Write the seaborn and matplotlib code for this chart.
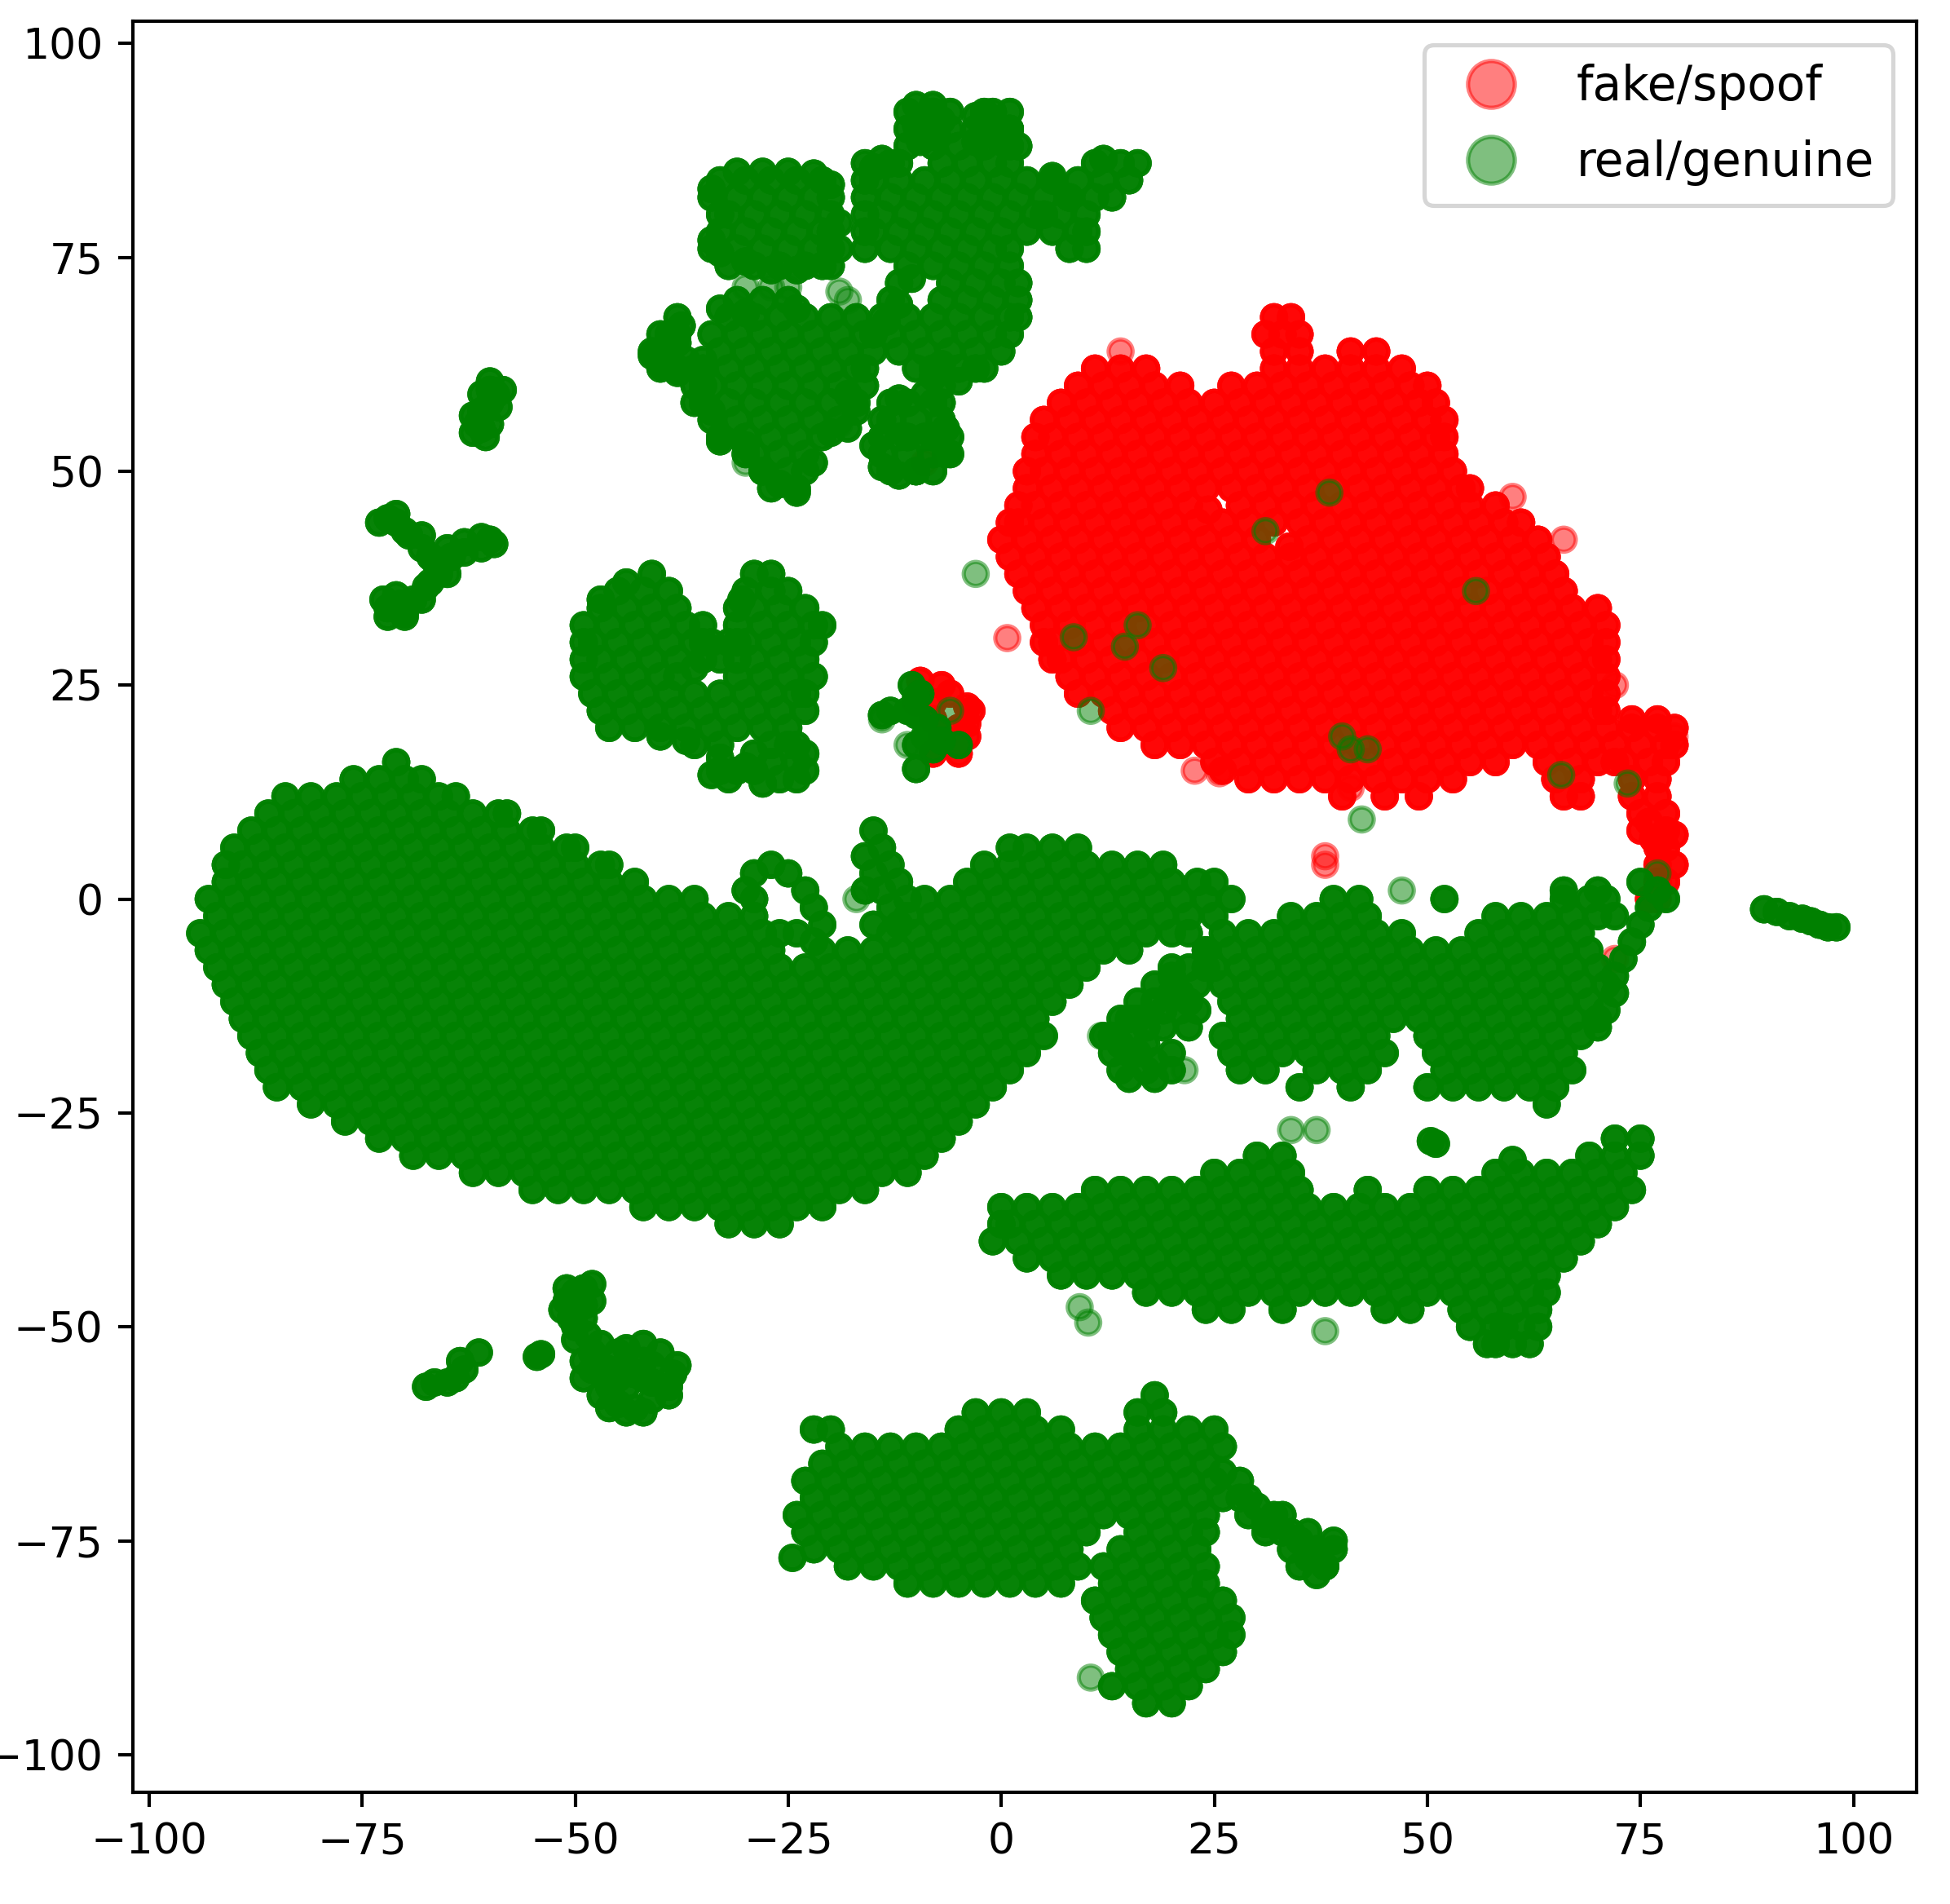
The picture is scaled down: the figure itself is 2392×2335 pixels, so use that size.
import pandas as pd
import matplotlib
matplotlib.use('Agg')
import matplotlib.pyplot as plt
import seaborn as sns

# points, cluster by cluster: (y, [x, x, ...])
red_rows = [
    (68, [32,34]),
    (66, [31,33,35]),
    (64, [32,35,41,44]),
    (62, [11,14,17,32,35,38,41,44,47]),
    (60, [9,12,15,18,21,27,30,33,36,39,42,45,48,50]),
    (58, [7,10,13,16,19,22,25,28,31,34,37,40,43,46,49,51]),
    (56, [5,8,11,14,17,20,23,26,29,32,35,38,41,44,47,50,52]),
    (54, [4,6,9,12,15,18,21,24,27,30,33,36,39,42,45,48,51,52]),
    (52, [4,7,10,13,16,19,22,25,28,31,34,37,40,43,46,49,52]),
    (50, [3,5,8,11,14,17,20,23,26,29,32,35,38,41,44,47,50,53]),
    (48, [3,6,9,12,15,18,21,24,27,30,33,36,39,42,45,48,51,54,55]),
    (46, [2,4,7,10,13,16,19,22,28,31,34,37,40,43,46,49,52,55,58]),
    (44, [1,2,5,8,11,14,17,20,23,26,29,32,35,38,41,44,47,50,53,56,59,61]),
    (42, [0,3,6,9,12,15,18,21,24,27,30,36,39,42,45,48,51,54,57,60,63]),
    (40, [1,4,7,10,13,16,19,22,25,28,31,34,37,40,43,46,49,52,55,58,61,64]),
    (38, [2,5,8,11,14,17,20,23,26,29,32,35,38,41,44,47,50,53,56,59,62,65]),
    (36, [3,6,9,12,15,18,21,24,27,30,33,36,39,42,45,48,51,54,57,60,63,66]),
    (34, [4,7,10,13,16,19,22,25,28,31,34,37,40,43,46,49,52,55,58,61,64,67,70]),
    (32, [5,8,11,14,17,20,23,26,29,32,35,38,41,44,47,50,53,56,59,62,65,68,71]),
    (30, [5,6,9,12,15,18,21,24,27,30,33,36,39,42,45,48,51,54,57,60,63,66,69,71]),
    (28, [6,7,10,13,16,19,22,25,28,31,34,37,40,43,46,49,52,55,58,61,64,67,70,71]),
    (26, [8,11,14,17,20,23,26,29,32,35,38,41,44,47,50,53,56,59,62,65,68,71]),
    (24, [9,12,15,18,21,24,27,30,33,36,39,42,45,48,51,54,57,60,63,66,69,71]),
    (22, [13,16,19,22,25,28,31,34,37,40,43,46,49,52,55,58,61,64,67,70,71]),
    (20, [14,17,20,23,26,29,32,35,38,41,44,47,50,53,56,59,62,65,68,71,74,77,79]),
    (18, [18,21,24,27,30,33,36,39,42,45,48,51,54,57,60,63,66,69,72,75,78,79]),
    (16, [25,28,31,34,37,40,43,46,49,52,55,58,64,67,70,73,76,78]),
    (14, [32,35,38,41,44,47,50,53,65,68,74,77]),
    (12, [40,45,49,66,68,74,77]),
    (10, [75,78]),
    (8, [75,78]),
    (6, [77,78]),
    (4, [77,79]),
    (2, [77,78]),
    (0, [76,77]),
]
red_small_x = [-9.5,-7,-10,-8,-6,-4,-3.5,-8,-5,-4,-7,-5,-8,-4,24.3,33.8,76,76.5,79,29,26,72,74,77]
red_small_y = [25.5,25,23,23,24,22.5,22,21,20,19,19,17,17,20.5,45.5,41.2,9,7,7.5,14,15,16,21,21]
red_single_x = [0.7,-9,38,38,14,60,66,72,79,41,25.6,22.7,72]
red_single_y = [30.5,51,5,4,64,47,42,25,19,13,14.7,15,-7]

blob_rows = [
    (16, [-71]),
    (14, [-76,-73,-70,-68]),
    (12, [-84,-81,-78,-75,-72,-69,-66,-64]),
    (10, [-86,-83,-80,-77,-74,-71,-68,-65,-62,-59,-58]),
    (8, [-88,-85,-82,-79,-76,-73,-70,-67,-64,-61,-58,-55,-54]),
    (6, [-90,-87,-84,-81,-78,-75,-72,-69,-66,-63,-60,-57,-54,-51,-50,1,3,6,9]),
    (4, [-91,-89,-86,-83,-80,-77,-74,-71,-68,-65,-62,-59,-56,-53,-50,-47,-46,-2,1,4,7,10,13,16,19]),
    (2, [-91,-88,-85,-82,-79,-76,-73,-70,-67,-64,-61,-58,-55,-52,-49,-46,-43,-4,-1,2,5,8,11,14,17,20,23,25]),
    (0, [-93,-90,-87,-84,-81,-78,-75,-72,-69,-66,-63,-60,-57,-54,-51,-48,-45,-42,-39,-36,-9,-6,-3,0,3,6,9,12,15,18,21,24,27]),
    (-2, [-92,-89,-86,-83,-80,-77,-74,-71,-68,-65,-62,-59,-56,-53,-50,-47,-44,-41,-38,-35,-32,-11,-8,-5,-2,1,4,7,10,13,16,19,22,25]),
    (-4, [-94,-91,-88,-85,-82,-79,-76,-73,-70,-67,-64,-61,-58,-55,-52,-49,-46,-43,-40,-37,-34,-31,-13,-10,-7,-4,-1,2,5,8,11,14,17,20,22]),
    (-6, [-93,-90,-87,-84,-81,-78,-75,-72,-69,-66,-63,-60,-57,-54,-51,-48,-45,-42,-39,-36,-33,-30,-27,-21,-18,-15,-12,-9,-6,-3,0,3,6,9,12,15]),
    (-8, [-92,-89,-86,-83,-80,-77,-74,-71,-68,-65,-62,-59,-56,-53,-50,-47,-44,-41,-38,-35,-32,-29,-26,-23,-20,-17,-14,-11,-8,-5,-2,1,4,7,10]),
    (-10, [-91,-88,-85,-82,-79,-76,-73,-70,-67,-64,-61,-58,-55,-52,-49,-46,-43,-40,-37,-34,-31,-28,-25,-22,-19,-16,-13,-10,-7,-4,-1,2,5,8]),
    (-12, [-90,-87,-84,-81,-78,-75,-72,-69,-66,-63,-60,-57,-54,-51,-48,-45,-42,-39,-36,-33,-30,-27,-24,-21,-18,-15,-12,-9,-6,-3,0,3,6]),
    (-14, [-89,-86,-83,-80,-77,-74,-71,-68,-65,-62,-59,-56,-53,-50,-47,-44,-41,-38,-35,-32,-29,-26,-23,-20,-17,-14,-11,-8,-5,-2,1,4]),
    (-16, [-88,-85,-82,-79,-76,-73,-70,-67,-64,-61,-58,-55,-52,-49,-46,-43,-40,-37,-34,-31,-28,-25,-22,-19,-16,-13,-10,-7,-4,-1,2,5]),
    (-18, [-87,-84,-81,-78,-75,-72,-69,-66,-63,-60,-57,-54,-51,-48,-45,-42,-39,-36,-33,-30,-27,-24,-21,-18,-15,-12,-9,-6,-3,0,3]),
    (-20, [-86,-83,-80,-77,-74,-71,-68,-65,-62,-59,-56,-53,-50,-47,-44,-41,-38,-35,-32,-29,-26,-23,-20,-17,-14,-11,-8,-5,-2,1]),
    (-22, [-85,-82,-79,-76,-73,-70,-67,-64,-61,-58,-55,-52,-49,-46,-43,-40,-37,-34,-31,-28,-25,-22,-19,-16,-13,-10,-7,-4,-1]),
    (-24, [-81,-78,-75,-72,-69,-66,-63,-60,-57,-54,-51,-48,-45,-42,-39,-36,-33,-30,-27,-24,-21,-18,-15,-12,-9,-6,-3]),
    (-26, [-77,-74,-71,-68,-65,-62,-59,-56,-53,-50,-47,-44,-41,-38,-35,-32,-29,-26,-23,-20,-17,-14,-11,-8,-5]),
    (-28, [-73,-70,-67,-64,-61,-58,-55,-52,-49,-46,-43,-40,-37,-34,-31,-28,-25,-22,-19,-16,-13,-10,-7]),
    (-30, [-69,-66,-63,-60,-57,-54,-51,-48,-45,-42,-39,-36,-33,-30,-27,-24,-21,-18,-15,-12,-9]),
    (-32, [-62,-59,-56,-53,-50,-47,-44,-41,-38,-35,-32,-29,-26,-23,-20,-17,-14,-11]),
    (-34, [-55,-52,-49,-46,-43,-40,-37,-34,-31,-28,-25,-22,-19,-16]),
    (-36, [-42,-39,-36,-33,-30,-27,-24,-21]),
    (-38, [-32,-29,-26]),
]
band_mid_rows = [
    (1, [66,70]),
    (0, [39,42,52,66,69,71]),
    (-2, [34,37,40,43,58,61,64,67,70,72]),
    (-4, [26,29,32,35,38,41,44,47,56,59,62,65,68]),
    (-6, [24,27,30,33,36,39,42,45,48,51,54,57,60,63,66,69]),
    (-8, [25,28,31,34,37,40,43,46,49,52,55,58,61,64,67,70]),
    (-10, [26,29,32,35,38,41,44,47,50,53,56,59,62,65,68,71]),
    (-12, [27,30,33,36,39,42,45,48,51,54,57,60,63,66,69]),
    (-14, [28,31,34,37,40,43,46,49,52,55,58,61,64,67,70]),
    (-16, [26,29,32,35,38,41,44,50,53,56,59,62,65,68]),
    (-18, [27,30,33,36,39,42,45,51,54,57,60,63,66]),
    (-20, [28,31,37,40,43,52,55,58,61,64,67]),
    (-22, [35,41,50,53,56,59,62,65]),
    (-24, [64]),
]
band_low_rows = [
    (-28, [72,75]),
    (-30, [30,33,69,72,75]),
    (-32, [25,28,31,34,58,61,64,67,70,73]),
    (-34, [11,14,17,20,23,26,29,32,35,43,50,53,56,59,62,65,68,71,74]),
    (-36, [0,3,6,9,12,15,18,21,24,27,30,33,36,39,42,45,48,51,54,57,60,63,66,69,72]),
    (-38, [0,1,4,7,10,13,16,19,22,25,28,31,34,37,40,43,46,49,52,55,58,61,64,67,70]),
    (-40, [-1,2,5,8,11,14,17,20,23,26,29,32,35,38,41,44,47,50,53,56,59,62,65,68]),
    (-42, [3,6,9,12,15,18,21,24,27,30,33,36,39,42,45,48,51,54,57,60,63,66]),
    (-44, [7,10,13,16,19,22,25,28,31,34,37,40,43,46,49,52,55,58,61,64]),
    (-46, [17,20,23,26,29,32,35,38,41,44,47,50,53,56,59,62,64]),
    (-48, [24,27,33,45,48,54,57,60,63]),
    (-50, [55,58,61,63]),
    (-52, [57,58,60,62]),
]
bottom_rows = [
    (-58, [18]),
    (-60, [-3,0,3,16,19]),
    (-62, [-22,-20,-5,-2,1,4,7,16,19,22,25]),
    (-64, [-19,-16,-13,-10,-7,-4,-1,2,5,8,11,14,17,20,23,26]),
    (-66, [-21,-18,-15,-12,-9,-6,-3,0,3,6,9,12,15,18,21,24]),
    (-68, [-23,-20,-17,-14,-11,-8,-5,-2,1,4,7,10,13,16,19,22,25,28]),
    (-70, [-22,-19,-16,-13,-10,-7,-4,-1,2,5,8,11,14,17,20,23,26,29]),
    (-72, [-24,-21,-18,-15,-12,-9,-6,-3,0,3,6,9,12,15,18,21,24,29,32]),
    (-74, [-23,-20,-17,-14,-11,-8,-5,-2,1,4,7,10,16,19,22,24,31,34,36]),
    (-76, [-22,-19,-16,-13,-10,-7,-4,-1,2,5,8,14,17,20,23,34,37,39]),
    (-78, [-18,-15,-12,-9,-6,-3,0,3,6,9,12,15,18,21,24,35,38]),
    (-80, [-11,-8,-5,-2,1,4,7,13,16,19,22,24]),
    (-82, [11,14,17,20,23,26]),
    (-84, [12,15,18,21,24,27]),
    (-86, [13,16,19,22,25,27]),
    (-88, [14,17,20,23,26]),
    (-90, [15,18,21,24]),
    (-92, [13,16,19,22]),
    (-94, [17,20]),
]
top_rows = [
    (92, [-11,-8,-6,-2,1]),
    (90, [-11,-9,-6,-3,0,1]),
    (88, [-11,-8,-5,-2,1]),
    (86, [-16,-13,-7,-4,-1,1,11,14,16]),
    (84, [-33,-30,-27,-24,-21,-16,-15,-12,-9,-6,-3,0,3,6,9,12,15]),
    (82, [-34,-31,-28,-25,-22,-20,-16,-13,-10,-7,-4,-1,2,5,8,11,13]),
    (80, [-33,-32,-29,-26,-23,-20,-16,-14,-11,-8,-5,-2,1,4,7,10]),
    (78, [-33,-30,-27,-24,-21,-20,-16,-15,-12,-9,-6,-3,0,3,6,9,10]),
    (76, [-34,-31,-28,-25,-22,-20,-16,-13,-10,-7,-4,-1,1,8,10]),
    (74, [-32,-29,-26,-23,-20,-11,-8,-5,-2,1]),
    (72, [-12,-6,-3,0,2]),
    (70, [-31,-28,-25,-13,-7,-4,-1,2]),
    (68, [-38,-32,-29,-26,-23,-20,-17,-14,-11,-8,-5,-2,1,2]),
    (66, [-40,-38,-34,-31,-28,-25,-22,-19,-16,-15,-13,-10,-7,-4,-1,1]),
    (64, [-41,-39,-33,-30,-27,-24,-21,-18,-15,-12,-9,-6,-3,0]),
    (62, [-40,-38,-36,-35,-32,-29,-26,-23,-20,-17,-10,-8,-5,-2]),
    (60, [-35,-34,-31,-28,-25,-22,-19,-16,-7]),
    (58, [-35,-32,-29,-26,-23,-20,-17,-13,-11,-8,-7]),
    (56, [-34,-31,-28,-25,-22,-19,-13,-10,-7]),
    (54, [-33,-30,-27,-24,-21,-14,-12,-9,-6]),
    (52, [-29,-26,-23,-14,-11,-8,-6]),
    (50, [-28,-25,-23,-13,-10,-8]),
    (48, [-27,-24]),
]
heart_rows = [
    (38, [-41,-29,-27]),
    (36, [-45,-42,-39,-30,-27,-25]),
    (34, [-47,-44,-41,-38,-29,-26,-23]),
    (32, [-49,-46,-43,-40,-37,-35,-31,-28,-25,-22,-21]),
    (30, [-49,-48,-45,-42,-39,-36,-35,-30,-27,-24,-22]),
    (28, [-49,-47,-44,-41,-38,-35,-29,-26,-23]),
    (26, [-49,-46,-43,-40,-38,-31,-28,-25,-22]),
    (24, [-48,-45,-42,-39,-36,-33,-30,-27,-24,-23]),
    (22, [-47,-44,-41,-38,-35,-32,-29,-26,-23]),
    (20, [-46,-43,-40,-37,-34,-31,-28,-25]),
    (18, [-36,-33,-27,-24]),
    (16, [-27,-24]),
    (15, [-33,-31,-29]),
    (14, [-26,-24]),
]
# thin bits that do not fit rows
bits_x = [-15,-14,-16,-13,-15,-12,-14,-11,-13,-15,-12,-16,
          -29,-27,-25,-23,-22,-21,-29,-29,-28,-26,-24,-22,-30,
          77,76,75,74,73,72,72,71,70,75,78,
          22,20,23,18,21,16,19,14,17,15,12,13,16,14,17,20,15,18,
          -61,-61.5,-61,-60,-59.3,-60,
          -72,-71,-69.5,-68,-66.5,-65,-64.5,-63,-61,-59.5,-60,-66,-67.5,-69,-70.5,-72,-72,-70,
          -10.5,-9.5,-10,-14,-13,-11,-10,-9,-7.5,-9,-7,-5,-8,-10,-10,
          -66.5,-65,-64,-63,-61.3,-54.5,-54,
          -51,-50.5,-49,-50,-48,-49,-50,-48.5,-49,-48,-49,-47,-45,-44,-42,-46,-44,-41,-38.5,-39,-45,-43,-41,-42,
          89.5,91,92.5,94,95,96,97,98,
          50.4,51,-24.5,59,60]
bits_y = [8,6,5,4,3,2,1,0,-1,-3,-3,1,
          3,4,3,1,-1,-3,0,-2,-4,-4,-4,-5,1,
          1,-1,-3,-5,-7,-9,-11,-13,-15,2,0,
          -8,-9,-10,-10,-11,-12,-13,-14,-15,-16,-16,-18,-18,-20,-20,-20,-21,-21,
          55,55.5,57,58,59,59.5,
          44.5,44,42.5,41,39.5,38,40,40.5,41,41.5,42,38,36.5,35,34.5,34,33,33.5,
          25,24,23.5,21.5,22,22,21.5,21,20,19,18.5,18,17.5,18,15.2,
          -56.5,-56.5,-56,-55,-53,-53.5,-53.2,
          -47,-49,-45.5,-46,-47,-49,-50,-51,-54,-53,-56,-55,-53,-54.5,-54,-57,-57,-56.5,-55.5,-57,-59,-59.5,-58.5,-56,
          -1.2,-1.5,-2,-2.3,-2.6,-3,-3.3,-3.3,
          -28.3,-28.6,-77,-50,-30.5]
# second pass along the outlines, where the first pass came out too thin
top_extra_x = [-10,-8,-7,-10,-7.5,-9.5,-3,-1,1,-1,2,0,-3,-14,-12,-15,-31,-28,-25,-22,-34,-20,-34,-33,-30,-27,-24,-21,-19,-19,
               -33,-30,-24,-13.5,-12,-10.5,-8,-5,-3,-7,-12,-9,-6.5,-6.5,-14,-15,-14,-12,-10,-11,-8,
               -35,-36,-36,-34,-33,-30,-20,-18,-16,-17,-18,-28,-26,-24,-22,-30,-39,-37.5,-41,-40,-38,-37,-39,-38,12,6,8,5]
top_extra_y = [92.8,92.8,91,90.5,89,88.5,91.5,92,90,90,88,88.5,88.5,86.5,86,85.5,85,85,85,84.8,83,83.5,77,75.5,74.5,73.5,73.5,74,76,79,
               69,68.5,69,67.5,69.5,72.5,61,60.5,62,62.5,58.5,59,55,52,56,53,50.5,49.5,50,54,54,
               63,60,58,57,53.5,53,54.5,59,62,57,55,50,48.5,47.5,51,52,66,67,63.5,62.5,61.5,63,64.5,65,86.5,84.5,82,80]
heart_extra_x = [-31,-31,-31,-32,-30.5,-33,-34,-36,-34,-32,-30,-28,-25,-23,-23,-29,-33,-44,-47,-40,-37]
heart_extra_y = [34,30,28,30,35,28,30,27,14.5,14,15.5,13.5,18,15,17,17,16.5,37,35,19,18.5]
left_extra_x = [-71,-70,-68,-67,-65,-63,-61,-67,-68,-70,-71,-72.5,-73,-62,-60,-59,-60,-61,-58.5,-62,-60.5,
                -51.5,-49,-51,-48,-50,-47,-46,-44,-42,-40,-38,-47,-45,-43,-41,-39,-46,-44,-42,-48,-67.5,-63.5]
left_extra_y = [45,43,42.5,40,41,41.7,42.3,37,35,33,35.5,35,44,56.5,55.5,57.5,60.5,59,59.5,54.5,54,
                -48,-47.5,-45.5,-45,-51.5,-52,-55,-52.5,-52,-53,-54.5,-58,-56,-55.5,-54.5,-58,-59.5,-60,-60,-55,-57,-54]
low_extra_x = [26,28,30,31,33,35,36,37,39,38,37,33,24,20,22,18,16,19,21,13,15,14,17,15,20,18,22,24,20,23]
low_extra_y = [-67,-70,-71,-73,-74,-75,-77,-76.5,-75,-78,-79,-72,-8,-11,-12,-12,-14,-15,-13,-16,-18,-17,-17,-14,-8,-19,-15,-6,-18,-13]
# single see-through green dots
green_single_x = [-3,42.3,47,34,37,8.5,16,14.5,19,31,38.5,55.7,40,41,43,65.7,73.5,10.5,-6,77,-30,-27,-25,-19,-18,-30,21.5,-17,9.2,10.2,38,10.5,11.7,-14,-11,-19]
green_single_y = [38,9.3,1,-27,-27,30.6,32,29.5,27,43,47.5,36,19,17.5,17.5,14.5,13.5,22,22,3,71.5,71.5,71.5,71,70,51,-20,0,-47.7,-49.5,-50.5,-91,-16,21,18,55.5]

LABEL_RED = 'fake/spoof'
LABEL_GREEN = 'real/genuine'


def rows_to_df(rows, label):
    xs, ys = [], []
    for y, row in rows:
        for x in row:
            xs.append(x)
            ys.append(y)
    return pd.DataFrame({'x': xs, 'y': ys, 'label': label})


def pts_to_df(xs, ys, label):
    return pd.DataFrame({'x': xs, 'y': ys, 'label': label})


# thick areas are many points on top of each other in the original, so the typed ones get stacked
red_dense = pd.concat([rows_to_df(red_rows, LABEL_RED), pts_to_df(red_small_x, red_small_y, LABEL_RED)])
green_dense = pd.concat([rows_to_df(r, LABEL_GREEN) for r in [blob_rows, band_mid_rows, band_low_rows, bottom_rows, top_rows, heart_rows]]
                        + [pts_to_df(bits_x, bits_y, LABEL_GREEN),
                           pts_to_df(top_extra_x, top_extra_y, LABEL_GREEN),
                           pts_to_df(heart_extra_x, heart_extra_y, LABEL_GREEN),
                           pts_to_df(left_extra_x, left_extra_y, LABEL_GREEN),
                           pts_to_df(low_extra_x, low_extra_y, LABEL_GREEN)])
df = pd.concat([red_dense] * 5
               + [pts_to_df(red_single_x, red_single_y, LABEL_RED)]
               + [green_dense] * 5
               + [pts_to_df(green_single_x, green_single_y, LABEL_GREEN)], ignore_index=True)

fig = plt.figure(figsize=(2392 / 374, 2335 / 374), dpi=374)
ax = fig.add_axes([163 / 2392, 1 - 2198 / 2335, (2351 - 163) / 2392, (2198 - 26) / 2335])
sns.scatterplot(data=df, x='x', y='y', hue='label', hue_order=[LABEL_RED, LABEL_GREEN],
                palette={LABEL_RED: 'red', LABEL_GREEN: 'green'}, alpha=0.5, s=32,
                edgecolor='face', linewidth=1, ax=ax)
ax.set_xlim(-101.9, 107.4)
ax.set_ylim(-104.4, 102.6)
ax.set_xticks([-100, -75, -50, -25, 0, 25, 50, 75, 100])
ax.set_yticks([-100, -75, -50, -25, 0, 25, 50, 75, 100])
ax.set_xlabel('')
ax.set_ylabel('')
ax.legend(loc='upper right', markerscale=1.95, fontsize=11.2, handletextpad=0.8, labelspacing=0.62, title=None)
fig.savefig('out.png', dpi=374)
